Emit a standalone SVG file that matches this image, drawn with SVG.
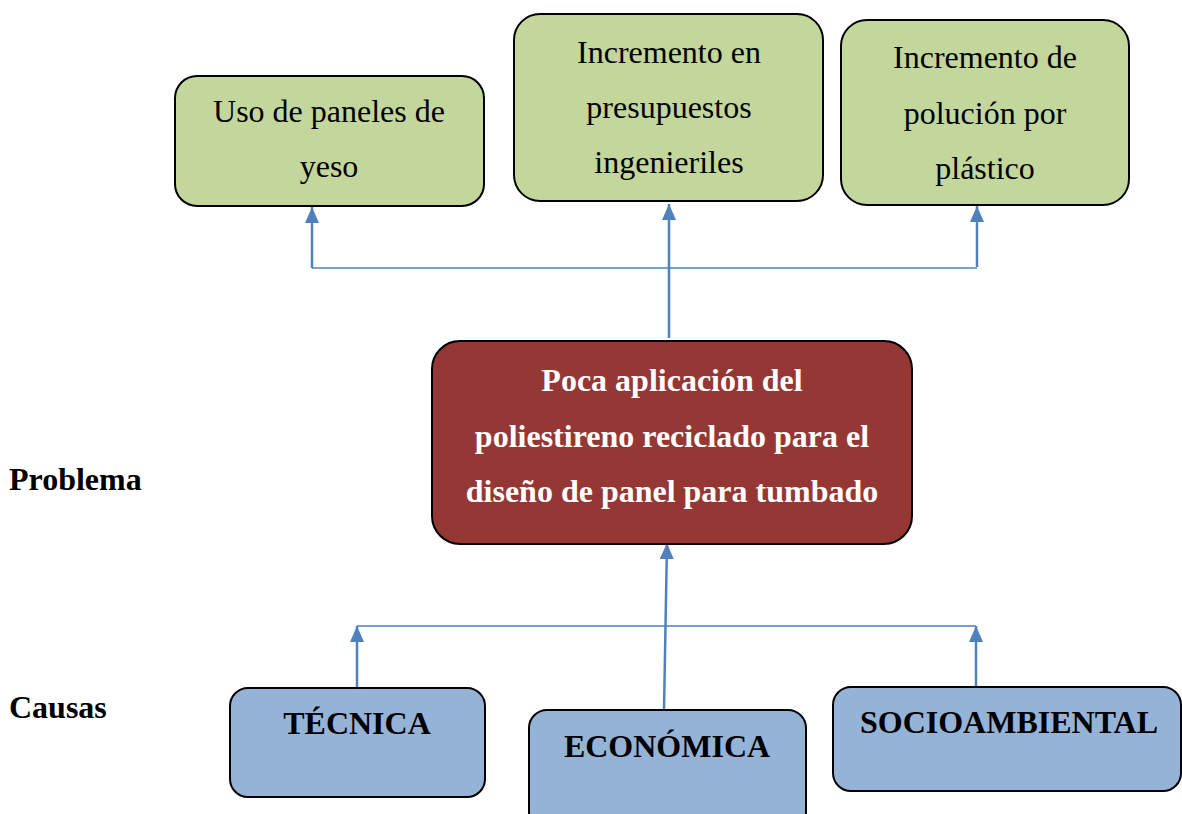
<svg xmlns="http://www.w3.org/2000/svg" width="1182" height="814" viewBox="0 0 1182 814">
<style>
.box{stroke:#000;stroke-width:2}
.g{fill:#C3D69B}
.r{fill:#953735}
.b{fill:#95B3D7}
.t{font-family:'Liberation Serif','Tinos','DejaVu Serif',serif;font-size:32px;fill:#000;text-anchor:middle}
.w{font-weight:bold;fill:#fff}
.bb{font-weight:bold}
.lbl{font-family:'Liberation Serif','Tinos','DejaVu Serif',serif;font-size:32px;font-weight:bold;fill:#000}
.v{stroke:#4F81BD;stroke-width:2.5;fill:none}
.h{stroke:#4F81BD;stroke-width:1.5;fill:none}
</style>
<defs>
<marker id="arr" markerUnits="userSpaceOnUse" markerWidth="16" markerHeight="14" viewBox="0 0 16 14" refX="16" refY="7" orient="auto">
<path d="M0 0 L16 7 L0 14 Z" fill="#4F81BD"/>
</marker>
</defs>
<rect width="1182" height="814" fill="#fff"/>
<g id="connectors">
<line class="h" x1="312" y1="268" x2="977" y2="268"/>
<line class="v" x1="312" y1="268" x2="312" y2="207" marker-end="url(#arr)"/>
<line class="v" x1="669" y1="338" x2="669" y2="204" marker-end="url(#arr)"/>
<line class="v" x1="977" y1="267" x2="977" y2="206" marker-end="url(#arr)"/>
<line class="h" x1="357" y1="626" x2="976" y2="626"/>
<line class="v" x1="357" y1="688" x2="357" y2="626" marker-end="url(#arr)"/>
<line class="v" x1="976" y1="687" x2="976" y2="626" marker-end="url(#arr)"/>
<line class="v" x1="664" y1="710" x2="667" y2="543" marker-end="url(#arr)"/>
</g>
<g id="efecto1">
<rect class="box g" x="175" y="76" width="309" height="130" rx="22"/>
<text class="t" x="329" y="122">Uso de paneles de</text>
<text class="t" x="329" y="177">yeso</text>
</g>
<g id="efecto2">
<rect class="box g" x="514" y="14" width="309" height="187" rx="26"/>
<text class="t" x="669" y="63">Incremento en</text>
<text class="t" x="669" y="118">presupuestos</text>
<text class="t" x="669" y="173">ingenieriles</text>
</g>
<g id="efecto3">
<rect class="box g" x="841" y="20" width="288" height="185" rx="26"/>
<text class="t" x="985" y="68">Incremento de</text>
<text class="t" x="985" y="124">polución por</text>
<text class="t" x="985" y="179">plástico</text>
</g>
<g id="problema">
<rect class="box r" x="432" y="341" width="480" height="203" rx="28"/>
<text class="t w" x="672" y="391">Poca aplicación del</text>
<text class="t w" x="672" y="447">poliestireno reciclado para el</text>
<text class="t w" x="672" y="502">diseño de panel para tumbado</text>
</g>
<g id="label-problema">
<text class="lbl" x="9" y="490">Problema</text>
</g>
<g id="label-causas">
<text class="lbl" x="9" y="718">Causas</text>
</g>
<g id="causa1">
<rect class="box b" x="230" y="688" width="255" height="109" rx="18"/>
<text class="t bb" x="357" y="734">TÉCNICA</text>
</g>
<g id="causa2">
<rect class="box b" x="529" y="710" width="277" height="120" rx="18"/>
<text class="t bb" x="667" y="757">ECONÓMICA</text>
</g>
<g id="causa3">
<rect class="box b" x="833" y="687" width="348" height="104" rx="18"/>
<text class="t bb" x="1009" y="733">SOCIOAMBIENTAL</text>
</g>
</svg>
